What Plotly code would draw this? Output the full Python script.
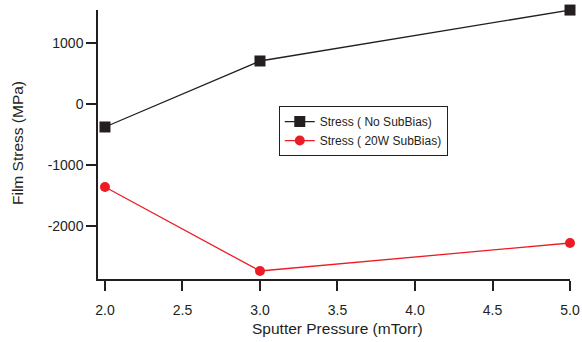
import plotly.graph_objects as go

pressure = [2.0, 3.0, 5.0]
stress_no_bias = [-377, 705, 1540]
stress_20w_bias = [-1361, -2738, -2279]
x_ticks = [2.0, 2.5, 3.0, 3.5, 4.0, 4.5, 5.0]
y_ticks = [-2000, -1000, 0, 1000]

black = "#231f20"
red = "#ed1c24"

fig = go.Figure()
fig.add_trace(go.Scatter(x=pressure, y=stress_no_bias, mode="lines+markers",
                         name="Stress ( No SubBias)",
                         line=dict(color=black, width=1.3),
                         marker=dict(symbol="square", size=11, color=black),
                         cliponaxis=False))
fig.add_trace(go.Scatter(x=pressure, y=stress_20w_bias, mode="lines+markers",
                         name="Stress ( 20W SubBias)",
                         line=dict(color=red, width=1.3),
                         marker=dict(symbol="circle", size=10, color=red),
                         cliponaxis=False))

fam = "Liberation Sans, Arial, sans-serif"
W, H = 582, 342
L, R, T, B = 98, 12, 10, 63
pw, ph = W - L - R, H - T - B
fig.update_layout(
    width=W, height=H,
    margin=dict(l=L, r=R, t=T, b=B),
    plot_bgcolor="white", paper_bgcolor="white",
    font=dict(family=fam, size=14, color=black),
    showlegend=True,
    legend=dict(x=0.383, y=0.643, xanchor="left", yanchor="top",
                bordercolor=black, borderwidth=1, bgcolor="white",
                font=dict(family=fam, size=12, color=black),
                tracegroupgap=0),
    xaxis=dict(range=[1.955, 5.0], tickvals=x_ticks, ticktext=[f"{v:.1f}" for v in x_ticks],
               automargin=False, ticklabelstandoff=7,
               showgrid=False, zeroline=False, showline=True, linecolor=black, linewidth=1.5,
               ticks="outside", ticklen=10, tickwidth=1.5, tickcolor=black),
    yaxis=dict(range=[-2869, 1541], tickvals=y_ticks, ticktext=[str(v) for v in y_ticks],
               automargin=False,
               showgrid=False, zeroline=False, showline=True, linecolor=black, linewidth=1.5,
               ticks="outside", ticklen=10, tickwidth=1.5, tickcolor=black),
    annotations=[
        dict(text="Sputter Pressure (mTorr)", xref="paper", yref="paper",
             x=(337 - L) / pw, y=-(328 - (T + ph)) / ph, xanchor="center", yanchor="middle",
             showarrow=False, font=dict(family=fam, size=15.5, color=black)),
        dict(text="Film Stress (MPa)", xref="paper", yref="paper",
             x=-(L - 18) / pw, y=1 - (143 - T) / ph, xanchor="center", yanchor="middle",
             textangle=-90, showarrow=False, font=dict(family=fam, size=15.5, color=black)),
    ],
)
fig.write_html("out.html")
